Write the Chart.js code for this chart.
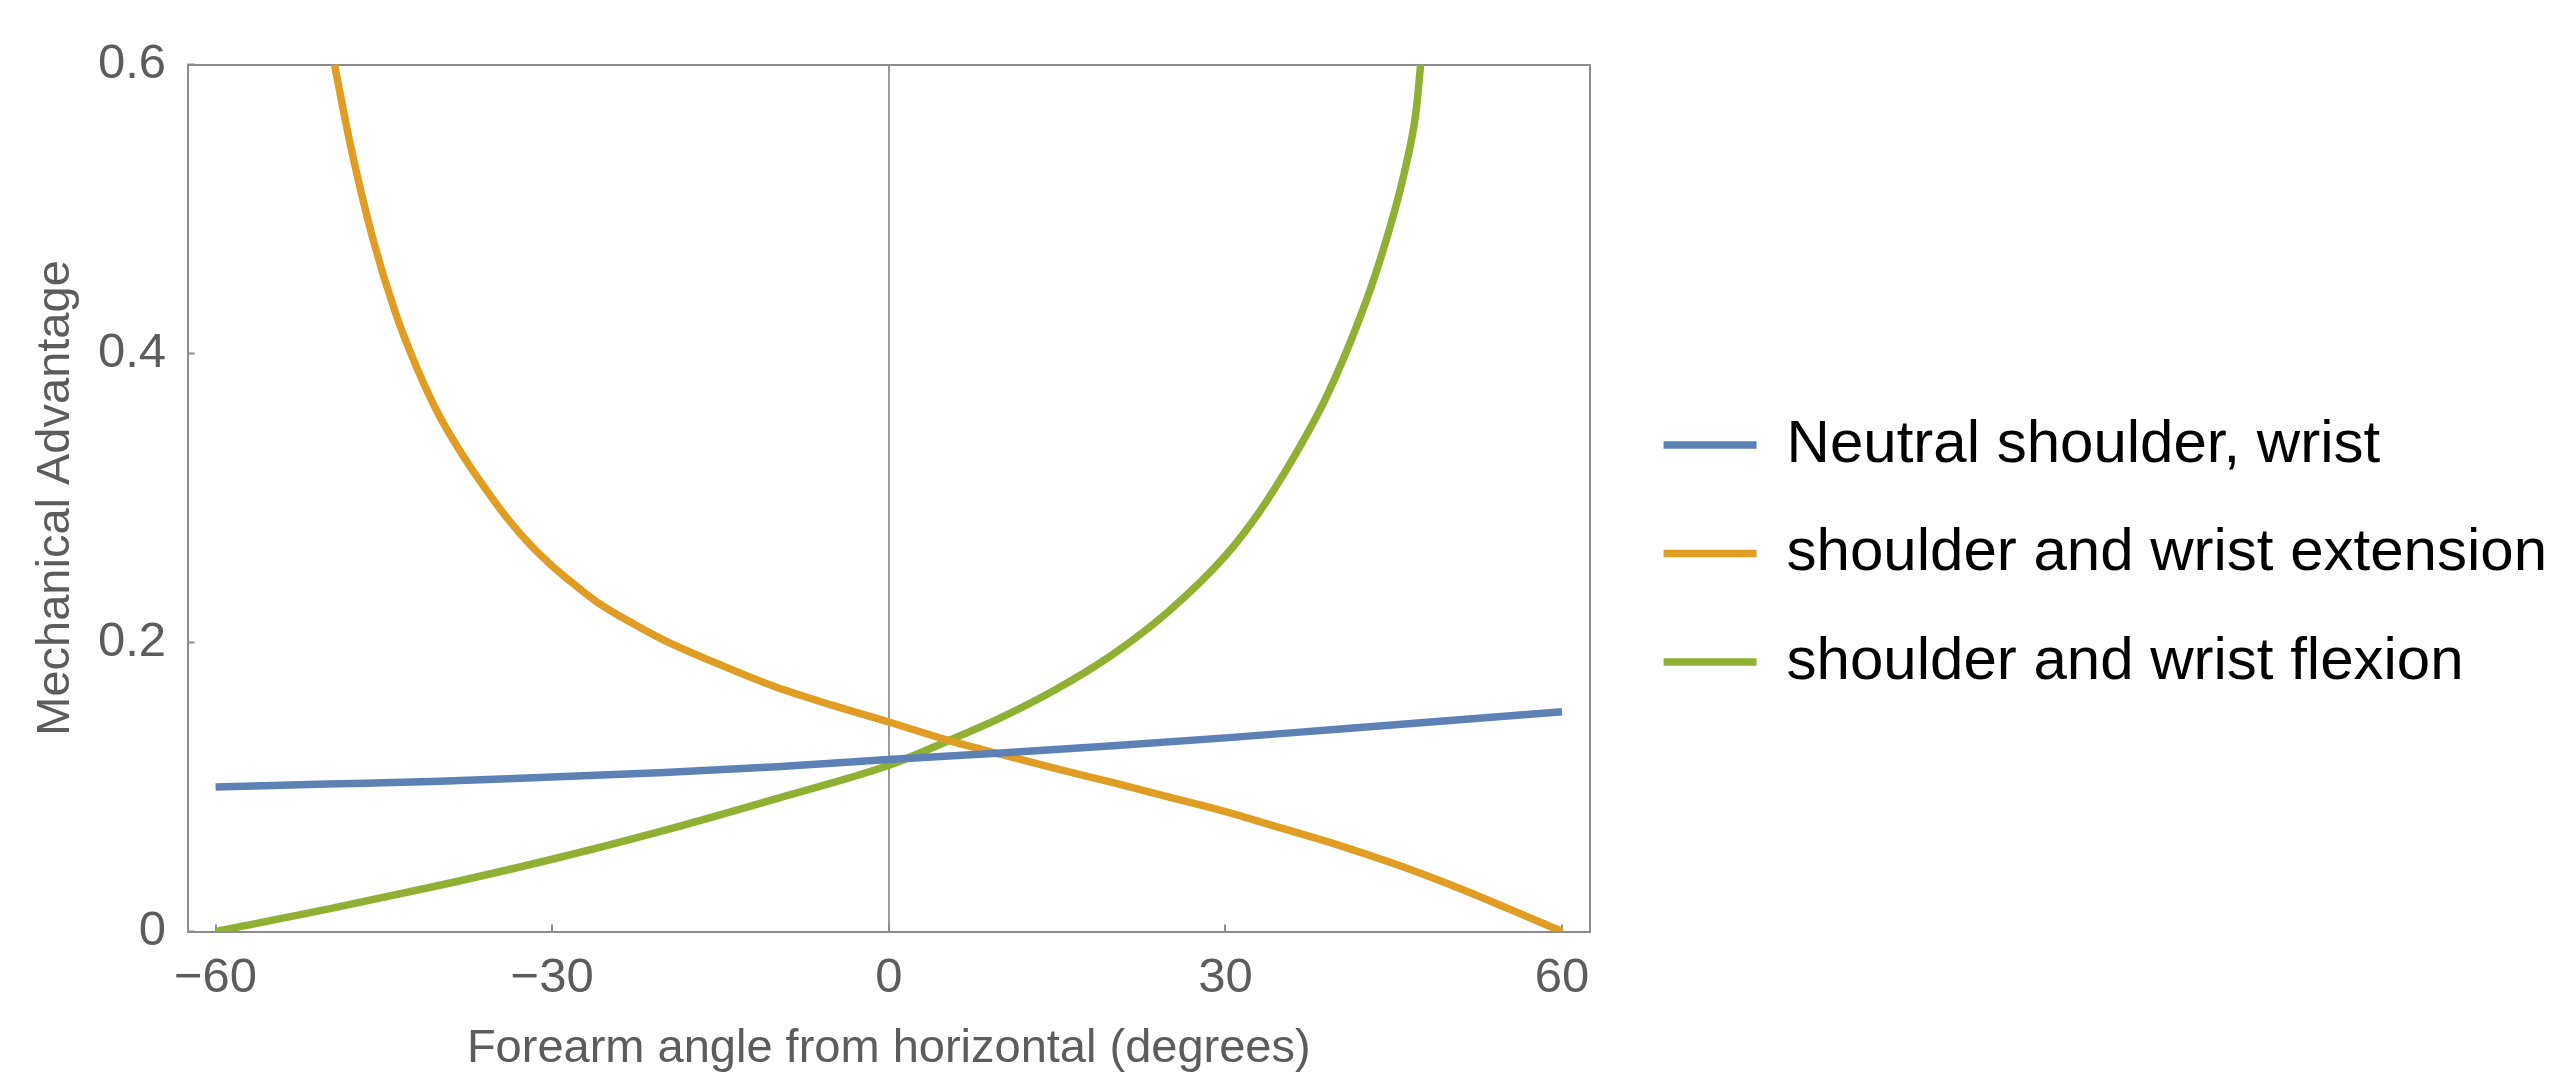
<!DOCTYPE html>
<html>
<head>
<meta charset="utf-8">
<title>Mechanical advantage vs forearm angle</title>
<script src="https://cdn.jsdelivr.net/npm/chart.js@4"></script>
<style>
  html, body { margin: 0; padding: 0; background: #fff; }
  #wrap { width: 2564px; height: 1072px; position: relative; }
</style>
</head>
<body>
<div id="wrap"><canvas id="ma"></canvas></div>
<script>
// values: forearm angle (degrees) -> mechanical advantage
var neutralAngle = [-60, -50, -40, -30, -20, -10, 0, 10, 20, 30, 40, 50, 60];
var neutralMA    = [0.100, 0.102, 0.104, 0.107, 0.110, 0.114, 0.119, 0.1235, 0.1285, 0.134, 0.140, 0.146, 0.152];

var extensionAngle = [-49.4, -48, -46, -44, -42, -40, -38, -36, -34, -32, -30, -28, -26, -23, -20, -15, -10, -5, 0, 5, 10, 15, 20, 25, 30, 35, 40, 45, 50, 55, 60];
var extensionMA    = [0.600, 0.545, 0.480, 0.429, 0.389, 0.356, 0.330, 0.307, 0.286, 0.268, 0.253, 0.240, 0.228, 0.214, 0.2015, 0.1845, 0.169, 0.1565, 0.145, 0.133, 0.1225, 0.1125, 0.103, 0.093, 0.083, 0.0715, 0.060, 0.047, 0.0325, 0.0165, 0.000];

var flexionAngle = [-60, -50, -40, -30, -20, -10, 0, 5, 10, 15, 20, 25, 30, 33, 36, 39, 42, 44, 46, 47, 47.4];
var flexionMA    = [0.000, 0.0155, 0.032, 0.050, 0.070, 0.092, 0.115, 0.131, 0.148, 0.168, 0.192, 0.222, 0.260, 0.290, 0.327, 0.370, 0.425, 0.470, 0.527, 0.568, 0.600];

var seriesNames  = ["Neutral shoulder, wrist", "shoulder and wrist extension", "shoulder and wrist flexion"];
var seriesColors = ["#5E81B5", "#E19C24", "#8FB032"];

var xTicks = [-60, -30, 0, 30, 60];
var yTicks = [0, 0.2, 0.4, 0.6];

var frameGray = "#8c8c8c";
var labelGray = "#5c5c5c";

Chart.defaults.font.family = "'Liberation Sans', Arial, sans-serif";

function pts(xs, ys) {
  return xs.map(function (x, i) { return { x: x, y: ys[i] }; });
}

function series(i, xs, ys) {
  return {
    label: seriesNames[i],
    data: pts(xs, ys),
    borderColor: seriesColors[i],
    backgroundColor: seriesColors[i],
    borderWidth: 7.5,
    pointRadius: 0,
    cubicInterpolationMode: "monotone",
    fill: false
  };
}

var config = {
  type: "line",
  data: {
    datasets: [
      series(0, neutralAngle, neutralMA),
      series(1, extensionAngle, extensionMA),
      series(2, flexionAngle, flexionMA)
    ]
  },
  options: {
    responsive: true,
    maintainAspectRatio: false,
    animation: false,
    layout: { padding: { top: 35, right: 7, bottom: 0, left: 0 } },
    plugins: {
      tooltip: { enabled: false },
      legend: {
        position: "right",
        maxWidth: 1100,
        labels: {
          usePointStyle: true,
          pointStyle: "line",
          pointStyleWidth: 93,
          padding: 48.5,
          color: "#000",
          font: { size: 60 }
        }
      }
    },
    scales: {
      x: {
        type: "linear",
        min: -62.5,
        max: 62.5,
        afterBuildTicks: function (s) { s.ticks = xTicks.map(function (v) { return { value: v }; }); },
        afterFit: function (s) { s.height = 140.5; },
        ticks: {
          autoSkip: false,
          maxRotation: 0,
          padding: 25,
          color: labelGray,
          font: { size: 49 },
          callback: function (v) { return v < 0 ? "\u2212" + (-v) : "" + v; }
        },
        grid: {
          display: true,
          drawOnChartArea: true,
          color: function (c) { return c.tick && c.tick.value === 0 ? "#9a9a9a" : "rgba(0,0,0,0)"; },
          lineWidth: 2,
          drawTicks: true,
          tickLength: -7,
          tickColor: frameGray,
          tickWidth: 2
        },
        border: { display: true, color: frameGray, width: 2 },
        title: {
          display: true,
          text: "Forearm angle from horizontal (degrees)",
          color: labelGray,
          font: { size: 47 },
          padding: { top: 0, bottom: -5 }
        }
      },
      y: {
        min: 0,
        max: 0.6,
        afterBuildTicks: function (s) { s.ticks = yTicks.map(function (v) { return { value: v }; }); },
        afterFit: function (s) { s.width = 187.5; },
        ticks: {
          padding: 28.5,
          color: labelGray,
          font: { size: 49 },
          callback: function (v) { return v === 0 ? "0" : v.toFixed(1); }
        },
        grid: {
          display: true,
          drawOnChartArea: false,
          drawTicks: true,
          tickLength: -7,
          tickColor: frameGray,
          tickWidth: 2
        },
        border: { display: true, color: frameGray, width: 2 },
        title: {
          display: true,
          text: "Mechanical Advantage",
          color: labelGray,
          font: { size: 47 },
          padding: { top: 28, bottom: 0 }
        }
      },
      // top and right edges of the frame
      xTop: {
        type: "linear",
        position: "top",
        afterFit: function (s) { s.height = 29.5; },
        ticks: { display: false },
        grid: { display: false },
        border: { display: true, color: frameGray, width: 2 }
      },
      yRight: {
        type: "linear",
        position: "right",
        afterFit: function (s) { s.width = 25; },
        ticks: { display: false },
        grid: { display: false },
        border: { display: true, color: frameGray, width: 2 }
      }
    }
  }
};

window.onload = function () {
  window.maChart = new Chart(document.getElementById("ma").getContext("2d"), config);
};
</script>
</body>
</html>
